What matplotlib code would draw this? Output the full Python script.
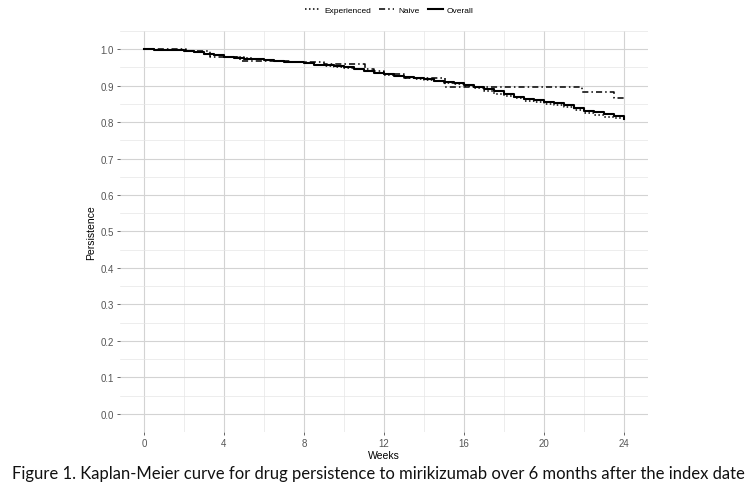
import matplotlib
matplotlib.use("Agg")
import matplotlib.pyplot as plt
from matplotlib.ticker import MultipleLocator

# ---------------------------------------------------------------------------
# Data
# ---------------------------------------------------------------------------

weeks = [0, 0.5, 1, 1.5, 2, 2.5, 3, 3.5, 4, 4.5, 5, 5.5, 6, 6.5, 7, 7.5, 8,
         8.5, 9, 9.5, 10, 10.5, 11, 11.5, 12, 12.5, 13, 13.5, 14, 14.5, 15,
         15.5, 16, 16.5, 17, 17.5, 18, 18.5, 19, 19.5, 20, 20.5, 21, 21.5, 22,
         22.5, 23, 23.5, 24]

overall = [1.0, 0.999, 0.998, 0.997, 0.996, 0.992, 0.988, 0.984, 0.980, 0.977,
           0.974, 0.972, 0.970, 0.968, 0.966, 0.964, 0.961, 0.958, 0.956, 0.953,
           0.950, 0.946, 0.941, 0.936, 0.931, 0.927, 0.923, 0.920, 0.918, 0.914,
           0.910, 0.906, 0.903, 0.896, 0.890, 0.884, 0.876, 0.870, 0.864, 0.860,
           0.856, 0.853, 0.848, 0.840, 0.831, 0.827, 0.822, 0.818, 0.808]

experienced = [1.0, 0.999, 0.998, 0.997, 0.996, 0.992, 0.988, 0.984, 0.980, 0.978,
               0.975, 0.973, 0.971, 0.969, 0.966, 0.964, 0.961, 0.958, 0.955, 0.952,
               0.949, 0.945, 0.940, 0.935, 0.930, 0.926, 0.922, 0.919, 0.916, 0.912,
               0.908, 0.904, 0.900, 0.893, 0.886, 0.878, 0.871, 0.865, 0.859, 0.855,
               0.851, 0.848, 0.842, 0.834, 0.825, 0.820, 0.815, 0.811, 0.803]

naive_weeks = [0, 2.1, 3.3, 4.8, 6.8, 7.3, 9.0, 11.05, 11.5, 12.0, 13.0, 15.05,
               21.9, 23.5, 24]
naive = [1.0, 0.995, 0.980, 0.968, 0.968, 0.966, 0.959, 0.945, 0.940, 0.933,
         0.920, 0.895, 0.882, 0.865, 0.865]

x_ticks = [0, 4, 8, 12, 16, 20, 24]
y_ticks = [0.0, 0.1, 0.2, 0.3, 0.4, 0.5, 0.6, 0.7, 0.8, 0.9, 1.0]

caption = ("Figure 1. Kaplan-Meier curve for drug persistence to mirikizumab "
           "over 6 months after the index date")

# ---------------------------------------------------------------------------
# Chart
# ---------------------------------------------------------------------------

plt.rcParams["font.family"] = ["Liberation Sans", "DejaVu Sans"]

fig = plt.figure(figsize=(7.56, 4.89), dpi=100)
ax = fig.add_axes([0.1587, 0.1145, 0.6984, 0.8201])

ax.step(weeks, experienced, where="post", color="black", lw=1.1,
        linestyle=(0, (1, 1.6)), label="Experienced")
ax.step(naive_weeks, naive, where="post", color="black", lw=1.1,
        linestyle=(0, (4, 2, 1, 2)), label="Naive")
ax.step(weeks, overall, where="post", color="black", lw=1.5, label="Overall")

ax.set_xlim(-1.2, 25.2)
ax.set_ylim(-0.05, 1.05)
ax.set_xticks(x_ticks)
ax.set_yticks(y_ticks)
ax.set_yticklabels([f"{v:.1f}" for v in y_ticks])
ax.xaxis.set_minor_locator(MultipleLocator(2))
ax.yaxis.set_minor_locator(MultipleLocator(0.05))

ax.grid(which="major", color="#d3d3d3", lw=0.8)
ax.grid(which="minor", color="#e6e6e6", lw=0.5)
ax.set_axisbelow(True)
for s in ax.spines.values():
    s.set_visible(False)
ax.tick_params(which="major", length=2.5, width=0.6, color="#4d4d4d",
               labelsize=7, labelcolor="#555555", pad=2)
ax.tick_params(which="minor", length=0)

ax.set_xlabel("Weeks", fontsize=7.5, labelpad=1)
ax.set_ylabel("Persistence", fontsize=7.5, labelpad=3)

fig.legend(loc="center", bbox_to_anchor=(0.515, 0.978), ncol=3, frameon=False,
           fontsize=6, handlelength=1.8, columnspacing=1.0, handletextpad=0.5)

fig.text(0.5, 0.031, caption, ha="center", va="center", fontsize=12.0,
         family="Lato", color="#111111")

fig.savefig("out.png", dpi=100)
plt.close()
